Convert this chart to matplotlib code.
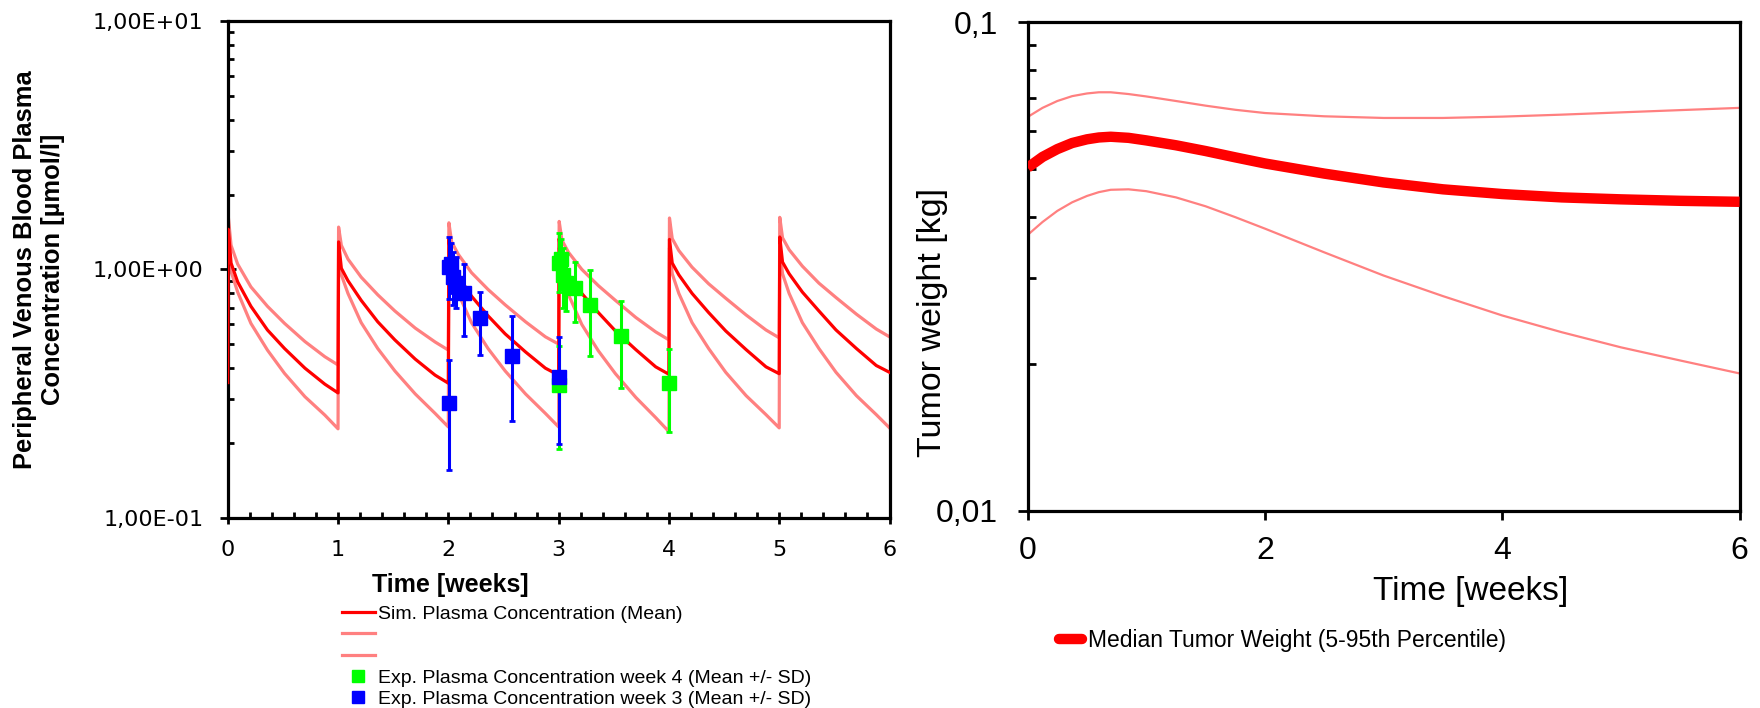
import matplotlib
matplotlib.use('Agg')
import numpy as np
import matplotlib.pyplot as plt
from matplotlib.ticker import LogLocator, NullFormatter, MultipleLocator, FixedLocator
from matplotlib.lines import Line2D

plt.rcParams['font.family'] = ['Liberation Sans', 'DejaVu Sans']

# ---------------- Left panel data: simulated plasma concentration ----------------
sim_time = [0.0,
            0.005, 0.03, 0.09, 0.21, 0.36, 0.515, 0.70, 0.88, 1.0,
            1.005, 1.03, 1.09, 1.21, 1.36, 1.515, 1.70, 1.88, 2.0,
            2.005, 2.03, 2.09, 2.21, 2.36, 2.515, 2.70, 2.88, 3.0,
            3.005, 3.03, 3.09, 3.21, 3.36, 3.515, 3.70, 3.88, 4.0,
            4.005, 4.03, 4.09, 4.21, 4.36, 4.515, 4.70, 4.88, 5.0,
            5.005, 5.03, 5.09, 5.21, 5.36, 5.515, 5.70, 5.88, 6.0]
sim_mean = [0.35,
            1.45, 1.06, 0.89, 0.71, 0.57, 0.48, 0.40, 0.345, 0.318,
            1.29, 1.01, 0.90, 0.75, 0.615, 0.52, 0.435, 0.375, 0.348,
            1.32, 1.05, 0.94, 0.78, 0.65, 0.55, 0.465, 0.40, 0.375,
            1.33, 1.06, 0.95, 0.80, 0.67, 0.565, 0.475, 0.405, 0.378,
            1.32, 1.06, 0.95, 0.80, 0.67, 0.565, 0.475, 0.405, 0.38,
            1.35, 1.07, 0.96, 0.81, 0.68, 0.57, 0.48, 0.41, 0.385]
sim_upper = [0.35,
             1.63, 1.25, 1.05, 0.85, 0.71, 0.606, 0.512, 0.445, 0.412,
             1.48, 1.25, 1.10, 0.93, 0.79, 0.68, 0.58, 0.51, 0.473,
             1.54, 1.29, 1.15, 0.97, 0.83, 0.72, 0.615, 0.535, 0.50,
             1.56, 1.31, 1.17, 1.00, 0.86, 0.75, 0.64, 0.56, 0.52,
             1.61, 1.33, 1.19, 1.02, 0.875, 0.765, 0.655, 0.57, 0.53,
             1.62, 1.34, 1.20, 1.03, 0.88, 0.77, 0.66, 0.575, 0.535]
sim_lower = [0.33,
             1.30, 0.98, 0.81, 0.606, 0.473, 0.381, 0.307, 0.259, 0.228,
             1.20, 0.95, 0.80, 0.61, 0.48, 0.39, 0.315, 0.263, 0.232,
             1.22, 0.96, 0.80, 0.61, 0.48, 0.39, 0.315, 0.263, 0.232,
             1.22, 0.95, 0.79, 0.60, 0.47, 0.38, 0.305, 0.253, 0.222,
             1.22, 0.96, 0.80, 0.61, 0.48, 0.385, 0.31, 0.26, 0.23,
             1.24, 0.96, 0.80, 0.61, 0.48, 0.385, 0.31, 0.26, 0.23]

# Experimental data, week 4 (green) and week 3 (blue): mean, upper (mean+SD), lower (mean-SD)
wk4_time = [3.0, 3.005, 3.02, 3.04, 3.07, 3.145, 3.289, 3.57, 4.0]
wk4_mean = [0.342, 1.06, 1.10, 0.95, 0.88, 0.84, 0.72, 0.541, 0.35]
wk4_high = [0.49, 1.40, 1.33, 1.22, 1.15, 1.07, 0.99, 0.747, 0.48]
wk4_low = [0.189, 0.81, 0.85, 0.70, 0.68, 0.615, 0.446, 0.334, 0.221]

wk3_time = [2.003, 2.01, 2.025, 2.045, 2.07, 2.145, 2.288, 2.573, 3.003]
wk3_mean = [0.29, 1.02, 1.05, 0.93, 0.88, 0.80, 0.635, 0.448, 0.367]
wk3_high = [0.43, 1.35, 1.28, 1.18, 1.12, 1.05, 0.81, 0.648, 0.535]
wk3_low = [0.155, 0.76, 0.80, 0.72, 0.70, 0.54, 0.45, 0.246, 0.198]

left_yticks = [0.1, 1.0, 10.0]
left_yticklabels = ['1,00E-01', '1,00E+00', '1,00E+01']
left_xticks = [0, 1, 2, 3, 4, 5, 6]
left_legend_labels = ['Sim. Plasma Concentration (Mean)', ' ', ' ',
                      'Exp. Plasma Concentration week 4 (Mean +/- SD)',
                      'Exp. Plasma Concentration week 3 (Mean +/- SD)']

# ---------------- Right panel data: tumor weight ----------------
tw_time = [0, 0.125, 0.25, 0.375, 0.5, 0.6, 0.7, 0.85, 1, 1.25, 1.5, 1.75,
           2, 2.5, 3, 3.5, 4, 4.5, 5, 5.5, 6]
tw_median = [0.0504, 0.0530, 0.0550, 0.0566, 0.0576, 0.0581, 0.0583, 0.0580,
             0.0573, 0.0560, 0.0545, 0.0529, 0.0514, 0.0490, 0.0470, 0.0455,
             0.0445, 0.0438, 0.0434, 0.0431, 0.0429]
tw_p95 = [0.0640, 0.0668, 0.0690, 0.0706, 0.0715, 0.0719, 0.0719, 0.0713,
          0.0705, 0.0690, 0.0675, 0.0662, 0.0652, 0.0642, 0.0637, 0.0637,
          0.0641, 0.0647, 0.0654, 0.0661, 0.0668]
tw_p5 = [0.0367, 0.0390, 0.0411, 0.0428, 0.0441, 0.0449, 0.0454, 0.0455,
         0.0451, 0.0438, 0.0420, 0.0399, 0.0378, 0.0338, 0.0303, 0.0275,
         0.0251, 0.0232, 0.0216, 0.0203, 0.0191]
right_yticks = [0.01, 0.1]
right_yticklabels = ['0,01', '0,1']
right_xticks = [0, 2, 4, 6]
right_legend_label = 'Median Tumor Weight (5-95th Percentile)'

RED = '#FF0000'
LIGHT = '#FF8080'
GREEN = '#00FF00'
BLUE = '#0000FF'

fig = plt.figure(figsize=(17.6, 7.08), dpi=100)
ax1 = fig.add_axes([0.1294, 0.2688, 0.3760, 0.7015])
ax2 = fig.add_axes([0.5839, 0.2787, 0.4045, 0.6898])

# ---------------- Left panel ----------------
ax1.plot(sim_time, sim_upper, color=LIGHT, lw=2.3, zorder=2)
ax1.plot(sim_time, sim_lower, color=LIGHT, lw=2.3, zorder=2)
ax1.plot(sim_time, sim_mean, color=RED, lw=2.3, zorder=3)

for t, m, hi, lo, c in [(wk4_time, wk4_mean, wk4_high, wk4_low, GREEN),
                        (wk3_time, wk3_mean, wk3_high, wk3_low, BLUE)]:
    m = np.array(m)
    err = [m - np.array(lo), np.array(hi) - m]
    ax1.errorbar(t, m, yerr=err, fmt='s', color=c, ms=9.5, mec=c,
                 elinewidth=2.2, capsize=2.5, capthick=2, zorder=4)

ax1.set_yscale('log')
ax1.set_xlim(0, 6)
ax1.set_ylim(0.1, 10)
ax1.yaxis.set_major_locator(FixedLocator(left_yticks))
ax1.set_yticklabels(left_yticklabels)
ax1.yaxis.set_minor_locator(LogLocator(base=10, subs=range(2, 10)))
ax1.yaxis.set_minor_formatter(NullFormatter())
ax1.set_xticks(left_xticks)
ax1.xaxis.set_minor_locator(MultipleLocator(0.2))
ax1.tick_params(axis='x', which='major', direction='inout', length=8.6, width=2,
                labelsize=16, pad=12, labelfontfamily='DejaVu Sans')
ax1.tick_params(axis='x', which='minor', direction='in', length=4.5, width=2)
ax1.tick_params(axis='y', which='major', direction='inout', length=11, width=2,
                labelsize=16, pad=12, labelfontfamily='DejaVu Sans')
ax1.tick_params(axis='y', which='minor', direction='in', length=4, width=2)
for s in ax1.spines.values():
    s.set_linewidth(2.3)

ax1.set_xlabel('Time [weeks]', fontsize=18, fontweight='bold')
ax1.xaxis.set_label_coords(0.337, -0.1355)
ax1.xaxis.label.set_va('center')
ax1.set_ylabel('Peripheral Venous Blood Plasma\nConcentration [µmol/l]',
               fontsize=18.4, fontweight='bold', multialignment='center')
ax1.yaxis.set_label_coords(-0.285, 0.5)
ax1.yaxis.label.set_va('center')

handles = [Line2D([], [], color=RED, lw=2.3),
           Line2D([], [], color=LIGHT, lw=2.3),
           Line2D([], [], color=LIGHT, lw=2.3),
           Line2D([], [], color=GREEN, marker='s', ls='none', ms=8),
           Line2D([], [], color=BLUE, marker='s', ls='none', ms=8)]
ax1.legend(handles, left_legend_labels, loc='upper left',
           bbox_to_anchor=(0.1943, 0.1450), bbox_transform=fig.transFigure,
           frameon=False, fontsize=14, handlelength=1.7, handletextpad=0.15,
           labelspacing=0.19, borderpad=0, borderaxespad=0)

# ---------------- Right panel ----------------
ax2.plot(tw_time, tw_p95, color=LIGHT, lw=1.6, zorder=2)
ax2.plot(tw_time, tw_p5, color=LIGHT, lw=1.6, zorder=2)
ax2.plot(tw_time, tw_median, color=RED, lw=7.5, solid_capstyle='butt', zorder=3)

ax2.set_yscale('log')
ax2.set_xlim(0, 6)
ax2.set_ylim(0.01, 0.1)
ax2.yaxis.set_major_locator(FixedLocator(right_yticks))
ax2.set_yticklabels(right_yticklabels)
ax2.yaxis.set_minor_locator(LogLocator(base=10, subs=range(2, 10)))
ax2.yaxis.set_minor_formatter(NullFormatter())
ax2.set_xticks(right_xticks)
ax2.tick_params(axis='x', which='major', direction='out', length=6.5, width=2,
                labelsize=23, pad=12)
ax2.tick_params(axis='y', which='major', direction='out', length=7.5, width=2,
                labelsize=23, pad=14)
ax2.tick_params(axis='y', which='minor', direction='in', length=6, width=2)
for s in ax2.spines.values():
    s.set_linewidth(2.3)

ax2.set_xlabel('Time [weeks]', fontsize=24)
ax2.xaxis.set_label_coords(0.622, -0.1655)
ax2.xaxis.label.set_va('center')
ax2.set_ylabel('Tumor weight [kg]', fontsize=24.5)
ax2.yaxis.set_label_coords(-0.133, 0.385)
ax2.yaxis.label.set_va('center')

h_med = Line2D([], [], color=RED, lw=7.5, solid_capstyle='round')
ax2.legend([h_med], [right_legend_label], loc='upper left',
           bbox_to_anchor=(0.6017, 0.1109), bbox_transform=fig.transFigure,
           frameon=False, fontsize=16.5, handlelength=1.0, handletextpad=0.25,
           borderpad=0, borderaxespad=0)

fig.savefig('out.png', dpi=100)
